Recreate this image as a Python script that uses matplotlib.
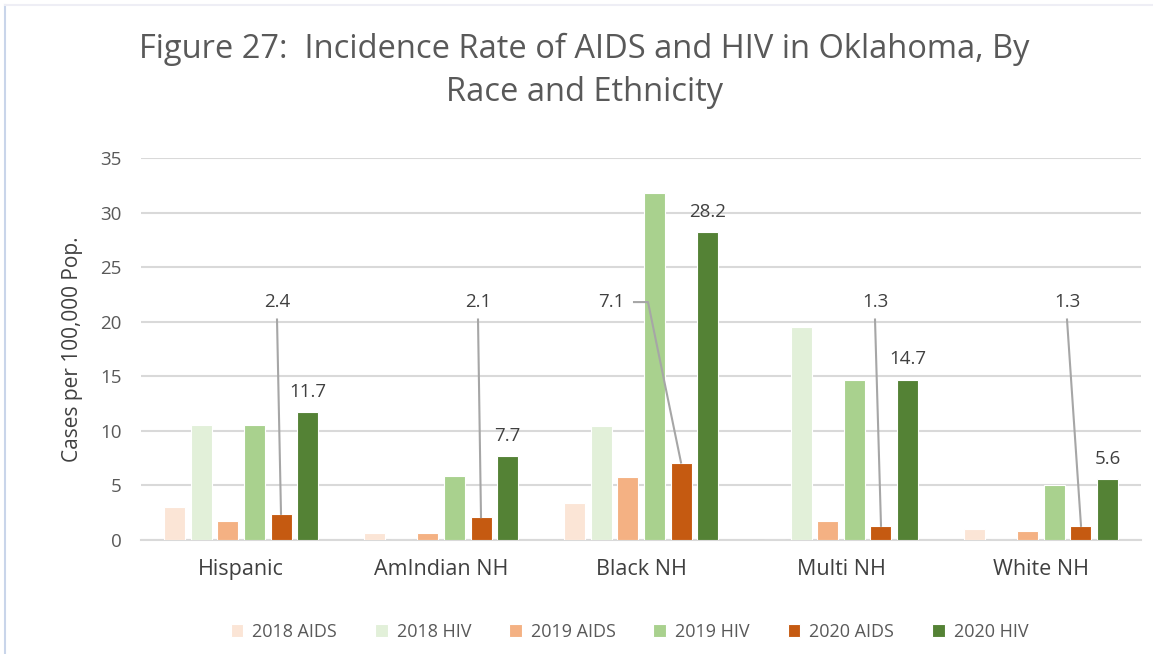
import matplotlib.pyplot as plt
import numpy as np
from matplotlib.lines import Line2D

# %% data
groups = ["Hispanic", "AmIndian NH", "Black NH", "Multi NH", "White NH"]
series = ["2018 AIDS", "2018 HIV", "2019 AIDS", "2019 HIV", "2020 AIDS", "2020 HIV"]
aids_2018 = [3.0, 0.6, 3.4, 0.0, 1.0]
hiv_2018 = [10.5, 0.0, 10.4, 19.5, 0.0]
aids_2019 = [1.7, 0.6, 5.8, 1.7, 0.8]
hiv_2019 = [10.5, 5.9, 31.8, 14.7, 5.0]
aids_2020 = [2.4, 2.1, 7.1, 1.3, 1.3]
hiv_2020 = [11.7, 7.7, 28.2, 14.7, 5.6]
values = [aids_2018, hiv_2018, aids_2019, hiv_2019, aids_2020, hiv_2020]
colors = ["#FBE5D6", "#E2F0D9", "#F4B183", "#A9D18E", "#C55A11", "#548235"]

# where the 2020 AIDS callouts sit (offset from group centre, height)
callout_dx = [0.18, 0.185, -0.15, 0.17, 0.13]
callout_y = 21.8

# %% plot
plt.rcParams['font.family'] = ['Open Sans', 'DejaVu Sans']
fig = plt.figure(figsize=(11.53, 6.54), dpi=100)
ax = fig.add_axes([0.1223, 0.1743, 0.8673, 0.5841])

x = np.arange(len(groups))
step = 0.1333
width = 0.105
for i, (name, vals, c) in enumerate(zip(series, values, colors)):
    ax.bar(x + (i - 2.5) * step, vals, width, color=c, edgecolor="white",
           linewidth=0.8, label=name, zorder=3)

# 2020 HIV labels on top of bars
for xi, v in zip(x + 2.5 * step, hiv_2020):
    ax.annotate(f"{v}", (xi, v), xytext=(0, 8), textcoords="offset points",
                ha="center", va="bottom", fontsize=13.5, color="#404040")

# 2020 AIDS callouts with leader lines
for xi, dx, v in zip(x, callout_dx, aids_2020):
    bx = xi + 1.5 * step
    lx = xi + dx
    ax.text(lx, callout_y, f"{v}", ha="center", va="center",
            fontsize=13.5, color="#404040", zorder=5)
    if dx < 0:
        ax.plot([lx + 0.115, lx + 0.185, bx], [callout_y, callout_y, v],
                color="#A6A6A6", lw=1.5, zorder=4)
    else:
        ax.plot([lx, bx], [callout_y - 1.6, v], color="#A6A6A6", lw=1.5, zorder=4)

ax.set_xlim(-0.5, len(groups) - 0.5)
ax.set_ylim(0, 35)
ax.set_yticks(range(0, 36, 5))
ax.set_xticks(x)
ax.set_xticklabels(groups, fontsize=15.5, color="#404040")
ax.tick_params(axis="y", labelsize=13.5, labelcolor="#595959", length=0, pad=14)
ax.tick_params(axis="x", length=0, pad=14)
ax.grid(axis="y", color="#D9D9D9", lw=1.5, zorder=0)
for s in ["top", "right", "left"]:
    ax.spines[s].set_visible(False)
ax.spines["bottom"].set_color("#D9D9D9")
ax.spines["bottom"].set_linewidth(1.5)

ax.set_ylabel("Cases per 100,000 Pop.", fontsize=15, color="#404040", labelpad=12)

fig.text(0.507, 0.925, "Figure 27:  Incidence Rate of AIDS and HIV in Oklahoma, By",
         ha="center", va="center", fontsize=23.5, color="#595959")
fig.text(0.507, 0.858, "Race and Ethnicity", ha="center", va="center",
         fontsize=23.5, color="#595959")

ax.legend(loc="center", bbox_to_anchor=(0.4885, -0.241), ncol=6, frameon=False,
          fontsize=13, handlelength=0.7, handleheight=0.7, columnspacing=2.1,
          handletextpad=0.5, labelcolor="#595959")

# screenshot frame
fig.add_artist(Line2D([0.0045, 0.0045], [0, 0.993], color="#C9D5EA", lw=1.5))
fig.add_artist(Line2D([0.0045, 1], [0.993, 0.993], color="#EEEEF5", lw=1.5))

fig.savefig("out.png", dpi=100)
